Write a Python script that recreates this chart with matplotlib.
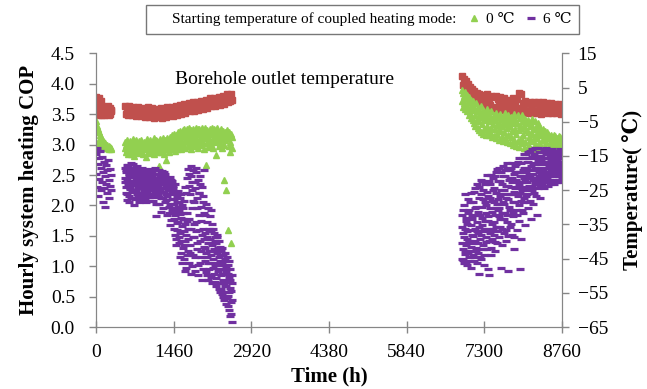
import numpy as np
import matplotlib
matplotlib.use("Agg")
from matplotlib import pyplot as plt
from matplotlib.lines import Line2D

plt.rcParams['font.family'] = ['Liberation Serif', 'DejaVu Serif', 'DejaVu Sans']

# hourly samples of the three operating periods
t_p1 = np.arange(0, 300, 10)
t_p2 = np.arange(545, 2566, 10)
t_p2b = np.arange(550, 2561, 10)
t_p3 = np.arange(6870, 8751, 10)
t_p3b = np.arange(6875, 8756, 10)
t_g1 = np.arange(0, 300, 10)
t_g2 = np.arange(545, 2566, 10)
t_g3 = np.arange(6870, 8751, 10)
t_b1 = np.arange(0, 300, 10)
t_b2 = np.arange(545, 2566, 20)
t_b3 = np.arange(6870, 8751, 20)

# COP, coupled heating mode starting at 6 C (purple)
cop6_1 = [2.85, 2.52, 2.95, 2.31, 2.68, 2.15, 2.78, 2.44, 2.90, 2.25,
          2.62, 2.38, 2.80, 2.05, 2.55, 2.72, 2.28, 2.48, 1.97, 2.66,
          2.35, 2.58, 2.20, 2.75, 2.42, 2.12, 2.60, 2.32, 2.50, 2.26]
cop6_2 = [2.45, 2.62, 2.31, 2.55, 2.18, 2.67, 2.40, 2.05, 2.52, 2.29,
          2.58, 2.36, 2.70, 2.22, 2.47, 2.12, 2.60, 2.38, 2.01, 2.49,
          2.33, 2.56, 2.26, 2.64, 2.43, 2.15, 2.51, 2.35, 2.58, 2.20,
          2.46, 2.30, 2.53, 2.11, 2.41, 2.57, 2.24, 2.49, 2.37, 2.05,
          2.52, 2.28, 2.44, 2.60, 2.19, 2.39, 2.50, 2.14, 2.33, 2.47,
          2.25, 2.55, 2.36, 2.08, 2.45, 2.30, 2.62, 2.21, 1.82, 2.42,
          2.34, 2.51, 2.18, 2.44, 2.27, 2.03, 2.48, 2.38, 2.12, 2.56,
          2.29, 2.40, 1.95, 2.46, 2.22, 2.35, 2.52, 2.09, 2.31, 2.43,
          2.15, 2.38, 2.26, 1.88, 2.47, 2.02, 2.33, 1.76, 2.21, 2.40,
          1.95, 2.29, 1.62, 2.11, 2.36, 1.84, 2.18, 1.45, 2.05, 1.71,
          2.24, 1.38, 1.92, 2.12, 1.55, 1.80, 1.22, 2.01, 1.66, 1.30,
          1.88, 1.12, 1.58, 2.30, 1.41, 0.98, 1.75, 2.45, 1.25, 1.62,
          2.52, 1.05, 2.18, 1.35, 2.65, 0.88, 1.95, 2.38, 1.18, 2.08,
          1.48, 2.28, 0.92, 2.55, 1.72, 2.12, 1.28, 2.42, 1.02, 1.85,
          2.20, 1.42, 2.36, 1.15, 1.98, 0.78, 1.62, 2.15, 1.32, 1.88,
          1.08, 1.55, 2.02, 1.22, 0.85, 1.72, 1.38, 1.05, 1.58, 0.95,
          1.45, 1.18, 1.92, 0.72, 1.35, 1.12, 1.62, 0.88, 1.28, 1.48,
          1.02, 1.38, 0.68, 1.22, 1.52, 0.92, 1.15, 0.62, 1.32, 1.08,
          0.85, 1.25, 0.55, 1.05, 0.78, 1.18, 0.45, 0.95, 1.12, 0.68,
          0.92, 0.38, 0.75, 1.02, 0.52, 0.82, 0.28, 0.65, 0.95, 0.42,
          0.22, 0.72, 0.08]
cop6_2b = [2.38, 2.21, 2.58, 2.44, 2.09, 2.66, 2.33, 2.50, 2.16, 2.61,
           2.27, 2.48, 2.13, 2.54, 2.40, 2.68, 2.24, 2.35, 2.57, 2.10,
           2.42, 2.63, 2.18, 2.37, 2.50, 2.28, 2.06, 2.45, 2.31, 2.54,
           2.20, 2.39, 2.61, 2.34, 2.16, 2.48, 2.27, 2.55, 2.12, 2.43,
           2.36, 2.57, 2.23, 2.31, 2.46, 2.07, 2.53, 2.29, 2.41, 2.18,
           2.50, 2.14, 2.39, 2.59, 2.26, 2.44, 2.17, 2.35, 2.52, 2.03,
           2.45, 2.20, 2.32, 2.58, 2.14, 2.41, 2.25, 2.53, 1.90, 2.36,
           2.48, 2.13, 2.37, 2.28, 2.55, 2.06, 2.42, 2.19, 2.34, 1.85,
           2.30, 2.45, 1.97, 2.18, 2.36, 1.68, 2.25, 2.42, 1.92, 2.10,
           2.32, 1.78, 2.02, 1.52, 2.22, 1.90, 1.35, 2.14, 1.60, 1.98,
           1.72, 2.06, 1.48, 1.15, 1.86, 2.18, 1.42, 1.05, 1.78, 1.96,
           1.35, 2.08, 1.70, 0.92, 1.52, 2.20, 1.18, 1.88, 2.60, 1.45,
           1.78, 2.32, 1.22, 2.48, 1.62, 1.00, 2.25, 1.48, 2.58, 1.70,
           2.05, 1.15, 2.38, 1.58, 2.62, 1.38, 1.95, 0.85, 2.20, 1.60,
           1.05, 2.48, 1.75, 1.25, 2.30, 1.52, 0.95, 2.05, 1.45, 2.58,
           1.30, 1.85, 0.90, 1.48, 1.15, 1.95, 0.78, 1.62, 1.25, 1.82,
           1.05, 1.58, 0.82, 1.38, 1.70, 0.98, 1.25, 1.55, 0.75, 1.42,
           1.25, 0.80, 1.48, 1.05, 0.72, 1.30, 0.95, 1.42, 0.58, 1.18,
           1.02, 0.62, 1.30, 0.88, 0.50, 1.08, 0.72, 1.22, 0.58, 0.98,
           0.68, 1.15, 0.48, 0.88, 0.35, 1.08, 0.58, 0.78, 0.18, 0.60,
           0.45, 0.85]
cop6_3 = [1.12, 1.65, 1.28, 1.92, 1.05, 1.48, 2.18, 1.20, 1.75, 1.35,
          1.02, 1.58, 1.88, 1.15, 1.42, 2.05, 1.25, 1.68, 0.98, 1.52,
          1.82, 1.18, 1.38, 2.22, 1.08, 1.62, 1.95, 1.30, 1.72, 2.35,
          1.22, 1.55, 2.12, 0.88, 1.85, 1.45, 2.42, 1.12, 1.68, 1.98,
          1.35, 2.25, 1.62, 1.02, 2.05, 1.48, 1.88, 2.50, 1.28, 1.75,
          2.15, 1.42, 0.85, 1.95, 2.35, 1.58, 1.18, 2.08, 1.70, 2.45,
          1.52, 2.28, 1.85, 1.25, 2.55, 1.65, 2.02, 1.38, 2.40, 1.92,
          2.62, 1.48, 2.15, 1.78, 0.98, 2.35, 1.62, 2.48, 2.05, 1.55,
          2.25, 1.88, 2.58, 1.42, 2.12, 2.70, 1.72, 2.32, 0.92, 1.98,
          2.45, 1.65, 2.18, 2.62, 1.52, 2.38, 2.05, 1.82, 2.52, 1.28,
          2.28, 2.65, 1.92, 2.42, 1.60, 2.15, 2.72, 1.75, 2.35, 0.95,
          2.55, 2.08, 1.45, 2.48, 2.25, 2.78, 1.88, 2.62, 2.12, 1.68,
          2.40, 2.85, 2.18, 2.60, 1.95, 2.72, 2.32, 2.05, 2.90, 2.48,
          1.78, 2.58, 2.25, 2.80, 2.42, 2.02, 2.68, 2.35, 2.95, 2.15,
          2.62, 2.45, 1.85, 2.75, 2.28, 2.55, 2.88, 2.12, 2.68, 2.40,
          2.82, 2.35, 2.60, 2.48, 2.92, 2.28, 2.72, 2.55, 2.38, 2.85,
          2.45, 2.78, 2.62, 2.32, 2.88, 2.52, 2.70, 2.40, 2.82, 2.58,
          2.68, 2.42, 2.85, 2.55, 2.35, 2.78, 2.62, 2.48, 2.90, 2.60,
          2.75, 2.50, 2.82, 2.38, 2.65, 2.88, 2.55, 2.72, 2.45]
cop6_3b = [1.38, 1.85, 1.10, 1.55, 2.00, 1.25, 1.62, 1.05, 1.80, 1.45,
           1.70, 1.22, 2.10, 1.40, 1.92, 1.08, 1.60, 2.20, 1.32, 1.78,
           1.50, 2.05, 1.15, 1.85, 1.42, 2.28, 1.25, 1.98, 1.58, 1.05,
           1.90, 1.38, 2.30, 1.65, 1.15, 2.18, 1.52, 1.80, 2.40, 1.28,
           2.10, 1.58, 1.18, 2.35, 1.75, 2.00, 1.40, 2.22, 1.62, 0.95,
           1.82, 2.40, 1.55, 2.12, 1.30, 2.50, 1.90, 1.45, 2.25, 1.62,
           2.05, 1.72, 2.48, 1.40, 2.20, 1.95, 2.60, 1.58, 2.10, 1.82,
           1.95, 2.40, 1.65, 2.25, 2.55, 1.88, 1.35, 2.18, 2.65, 1.78,
           2.02, 2.48, 1.60, 2.32, 1.85, 2.62, 2.10, 1.50, 2.42, 2.18,
           1.92, 2.58, 2.30, 1.70, 2.45, 2.70, 1.88, 2.22, 1.48, 2.55,
           2.05, 2.40, 2.68, 2.18, 1.85, 2.55, 2.30, 2.78, 2.00, 2.48,
           2.20, 2.70, 2.38, 1.92, 2.58, 2.05, 2.45, 2.85, 2.30, 2.62,
           2.15, 2.55, 2.72, 2.38, 2.88, 2.25, 2.50, 2.78, 2.08, 2.65,
           2.45, 2.92, 2.30, 2.70, 2.52, 2.85, 2.20, 2.62, 2.40, 2.78,
           2.35, 2.82, 2.58, 2.95, 2.48, 2.70, 2.30, 2.88, 2.52, 2.75,
           2.62, 2.45, 2.78, 2.30, 2.68, 2.88, 2.50, 2.72, 2.95, 2.42,
           2.72, 2.55, 2.90, 2.48, 2.65, 2.80, 2.35, 2.75, 2.60, 2.92,
           2.50, 2.78, 2.65, 2.88, 2.42, 2.70, 2.58, 2.82, 2.38, 2.75,
           2.62, 2.85, 2.48, 2.78, 2.55, 2.92, 2.40, 2.70, 2.60]

# COP, coupled heating mode starting at 0 C (green)
cop0_1 = [3.38, 3.02, 3.30, 2.98, 3.25, 3.05, 3.20, 2.97, 3.16, 3.01,
          3.12, 2.96, 3.09, 3.00, 3.06, 2.95, 3.04, 2.98, 3.02, 2.96,
          3.00, 2.94, 2.99, 2.95, 2.97, 2.93, 2.96, 2.94, 2.95, 2.93]
cop0_2 = [2.95, 3.05, 2.88, 3.00, 2.92, 3.08, 2.85, 2.97, 3.03, 2.90,
          3.06, 2.93, 2.84, 3.01, 2.96, 3.09, 2.89, 2.99, 2.82, 3.04,
          2.94, 3.07, 2.87, 3.02, 2.91, 2.98, 3.06, 2.86, 3.00, 2.93,
          3.08, 2.90, 2.97, 3.03, 2.84, 2.95, 3.05, 2.92, 2.99, 2.80,
          3.02, 2.94, 3.09, 2.88, 2.98, 3.04, 2.91, 3.07, 2.86, 2.96,
          3.05, 2.89, 3.00, 2.93, 3.10, 2.85, 2.97, 3.03, 2.90, 3.08,
          2.92, 3.06, 2.87, 2.99, 2.64, 3.04, 2.94, 3.09, 2.88, 3.01,
          2.96, 3.11, 2.90, 3.03, 2.84, 3.07, 2.98, 2.75, 3.05, 2.93,
          3.10, 2.95, 3.04, 2.88, 3.13, 2.99, 3.07, 2.92, 3.15, 3.01,
          2.94, 3.12, 3.03, 3.18, 2.90, 3.08, 2.98, 3.16, 3.05, 2.93,
          3.20, 3.02, 3.12, 2.96, 3.22, 3.07, 2.92, 3.17, 3.04, 3.24,
          3.00, 3.14, 3.26, 3.06, 2.95, 3.20, 3.10, 3.25, 2.98, 3.16,
          3.27, 3.04, 3.18, 3.09, 2.93, 3.24, 3.12, 3.01, 3.26, 3.15,
          3.06, 3.22, 2.97, 3.28, 3.11, 3.19, 3.03, 3.25, 2.94, 3.17,
          3.26, 3.08, 3.21, 2.99, 3.14, 3.28, 3.05, 3.18, 2.92, 3.23,
          3.10, 3.27, 2.67, 3.16, 3.02, 3.24, 3.12, 2.96, 3.20, 3.07,
          3.25, 3.00, 3.18, 3.28, 3.08, 2.94, 3.22, 3.13, 3.26, 3.04,
          3.17, 2.83, 3.24, 3.06, 3.27, 3.11, 2.98, 3.20, 3.15, 3.02,
          3.26, 3.09, 3.19, 2.95, 3.23, 3.12, 3.00, 2.42, 3.21, 3.07,
          3.16, 2.26, 3.24, 1.60, 3.10, 2.97, 3.20, 3.05, 2.88, 3.18,
          1.38, 3.12, 2.95]
cop0_3 = [3.89, 3.72, 3.84, 3.62, 3.80, 3.68, 3.86, 3.58, 3.76, 3.65,
          3.82, 3.55, 3.70, 3.48, 3.78, 3.60, 3.52, 3.74, 3.44, 3.66,
          3.56, 3.40, 3.72, 3.35, 3.62, 3.48, 3.30, 3.68, 3.42, 3.55,
          3.28, 3.60, 3.38, 3.24, 3.52, 3.45, 3.20, 3.64, 3.33, 3.48,
          3.18, 3.56, 3.40, 3.25, 3.50, 3.15, 3.44, 3.58, 3.30, 3.22,
          3.52, 3.16, 3.38, 3.46, 3.20, 3.55, 3.28, 3.12, 3.42, 3.34,
          3.14, 3.48, 3.26, 3.40, 3.10, 3.52, 3.32, 3.18, 3.45, 3.22,
          3.36, 3.08, 3.50, 3.24, 3.42, 3.12, 3.30, 3.46, 3.06, 3.38,
          3.20, 3.52, 3.10, 3.34, 3.44, 3.04, 3.28, 3.48, 3.15, 3.38,
          3.02, 3.30, 3.46, 3.12, 3.40, 3.22, 3.00, 3.36, 3.50, 3.08,
          3.26, 3.42, 2.98, 3.18, 3.35, 3.06, 3.48, 3.24, 2.96, 3.32,
          3.44, 3.10, 3.28, 3.49, 3.02, 3.38, 3.16, 2.95, 3.30, 3.42,
          3.05, 3.24, 3.36, 2.94, 3.20, 3.40, 3.12, 2.98, 3.30, 3.08,
          3.34, 2.93, 3.18, 3.42, 3.06, 3.26, 2.96, 3.38, 3.14, 3.00,
          3.28, 3.10, 2.92, 3.35, 3.20, 3.02, 3.30, 2.95, 3.15, 3.24,
          2.98, 3.18, 3.08, 3.26, 2.92, 3.12, 3.22, 2.96, 3.16, 3.04,
          3.20, 2.90, 3.10, 3.18, 2.98, 3.14, 2.88, 3.06, 3.16, 2.94,
          3.12, 3.02, 2.90, 3.16, 3.06, 2.92, 3.14, 2.98, 3.08, 2.88,
          3.10, 2.96, 3.14, 3.00, 2.89, 3.12, 3.04, 2.92, 3.08]

# borehole outlet temperature, C (red, right axis)
tout_1 = [2.2, -2.8, 1.5, -2.2, 0.8, -3.0, 1.9, -1.5, 0.2, -2.5,
          1.0, -2.9, -0.5, -2.0, -1.2, -3.1, -0.8, -2.4, -1.6, -0.6,
          -2.8, -1.0, -2.2, -0.5, -3.0, -1.4, -2.6, -0.9, -2.0, -1.5]
tout_2 = [-0.5, -2.8, -1.2, -3.0, -0.4, -2.2, -1.5, -3.1, -0.8, -2.5,
          -1.0, -3.2, -0.6, -2.6, -1.8, -3.3, -0.9, -2.4, -1.4, -3.5,
          -1.2, -2.9, -0.8, -3.6, -1.6, -2.7, -1.1, -3.8, -1.9, -3.0,
          -1.3, -3.7, -2.0, -3.2, -1.0, -3.9, -1.7, -2.8, -1.2, -3.5,
          -0.8, -3.1, -1.5, -2.6, -0.6, -3.3, -1.2, -2.4, -0.3, -2.9,
          -0.9, -2.2, 0.0, -2.7, -0.5, -1.9, 0.3, -2.4, -0.7, -1.6,
          0.4, -2.0, -0.3, -1.4, 0.7, -1.8, -0.1, -1.0, 0.9, -1.5,
          0.2, -0.8, 1.2, -1.2, 0.5, -0.4, 1.5, -0.9, 0.8, -0.2,
          1.8, -0.5, 1.1, 0.2, 2.0, -0.3, 1.4, 0.5, 2.3, 0.0,
          1.7, 0.6, 2.6, 0.3, 2.0, 1.0, 3.0, 0.7, 2.4, 1.2,
          3.1, 1.5]
tout_3 = [8.5, 5.8, 7.6, 5.0, 6.8, 4.2, 6.0, 3.5, 5.2, 2.8,
          4.6, 2.2, 4.0, 1.5, 3.4, 0.8, 3.0, 0.4, 2.6, 0.0,
          2.8, -0.4, 2.2, 0.2, 3.0, -0.6, 2.0, -0.2, 2.5, -1.0,
          2.1, -0.8, 2.6, -1.2, 1.6, -0.5, 2.2, -1.5, 1.2, -0.9,
          1.9, -1.6, 1.0, -0.6, 1.5, -2.0, 0.8, -1.2, 2.0, -1.8,
          0.9, -1.4, 1.6, -2.2, 3.3, -1.0, 3.0, -2.4, 0.5, -1.6,
          1.2, -2.0, 0.4, -2.5, 0.9, -1.5, 0.2, -2.3, 0.8, -1.8,
          0.5, -2.4, 0.9, -1.6, 0.1, -2.6, 0.7, -1.9, 0.3, -2.2,
          0.6, -2.5, 0.0, -1.7, 0.4, -2.3, -0.2, -1.8, 0.2, -2.4,
          -0.1, -2.0, 0.3, -2.6, -0.5]

red = '#C0504D'
green = '#92D050'
purple = '#7030A0'
axis_gray = '#868686'

fig = plt.figure(figsize=(6.47, 3.89), dpi=100)
ax = fig.add_axes([0.148, 0.159, 0.721, 0.704])
ax2 = ax.twinx()

for t, v in [(t_b1, tout_1), (t_b2, tout_2), (t_b3, tout_3)]:
    ax2.plot(t, v, linestyle='none', marker='s', ms=4.6, color=red, mec=red)
for t, v in [(t_g1, cop0_1), (t_g2, cop0_2), (t_g3, cop0_3)]:
    ax.plot(t, v, linestyle='none', marker='^', ms=5, color=green, mec=green)
for t, v in [(t_p1, cop6_1), (t_p2, cop6_2), (t_p2b, cop6_2b),
             (t_p3, cop6_3), (t_p3b, cop6_3b)]:
    ax.plot(t, v, linestyle='none', marker='_', ms=6, mew=2.3, color=purple)

# COP axis drawn above temperature axis
ax.set_zorder(ax2.get_zorder() + 1)
ax.patch.set_visible(False)

ax.set_xlim(0, 8760)
ax.set_ylim(0, 4.5)
ax2.set_ylim(-65, 15)
ax.set_xticks(np.arange(0, 8761, 1460))
ax.set_yticks(np.arange(0, 4.51, 0.5))
ax.set_yticklabels(['%.1f' % v for v in np.arange(0, 4.51, 0.5)])
ax2.set_yticks(np.arange(-65, 16, 10))

for a in (ax, ax2):
    for s in a.spines.values():
        s.set_color(axis_gray)
    a.spines['top'].set_visible(False)
    a.tick_params(colors=axis_gray, labelcolor='black', labelsize=14,
                  length=5, width=1)
ax.tick_params(axis='x', direction='inout', length=8, pad=8)
ax.tick_params(axis='y', pad=10)
ax2.tick_params(axis='y', pad=6)

ax.set_xlabel('Time (h)', fontsize=15, fontweight='bold', labelpad=4)
ax.set_ylabel('Hourly system heating COP', fontsize=15, fontweight='bold', labelpad=8)
ax2.set_ylabel('Temperature( ℃)', fontsize=15, fontweight='bold', labelpad=10)

ax.text(1480, 4.07, 'Borehole outlet temperature', fontsize=14, va='center', ha='left')

h0 = Line2D([], [], linestyle='none')
h1 = Line2D([], [], linestyle='none', marker='^', ms=4, color=green)
h2 = Line2D([], [], linestyle='none', marker='_', ms=6, mew=2.3, color=purple)
leg = fig.legend([h0, h1, h2],
                 ['Starting temperature of coupled heating mode:', '0 ℃', '6 ℃'],
                 loc='center', bbox_to_anchor=(0.561, 0.951), ncol=3,
                 fontsize=11, frameon=True, fancybox=False, handlelength=0.8,
                 handletextpad=0.4, columnspacing=0.7, borderpad=0.5)
leg.get_frame().set_edgecolor('#555555')
leg.get_frame().set_linewidth(1)

plt.savefig('out.png', dpi=100)
